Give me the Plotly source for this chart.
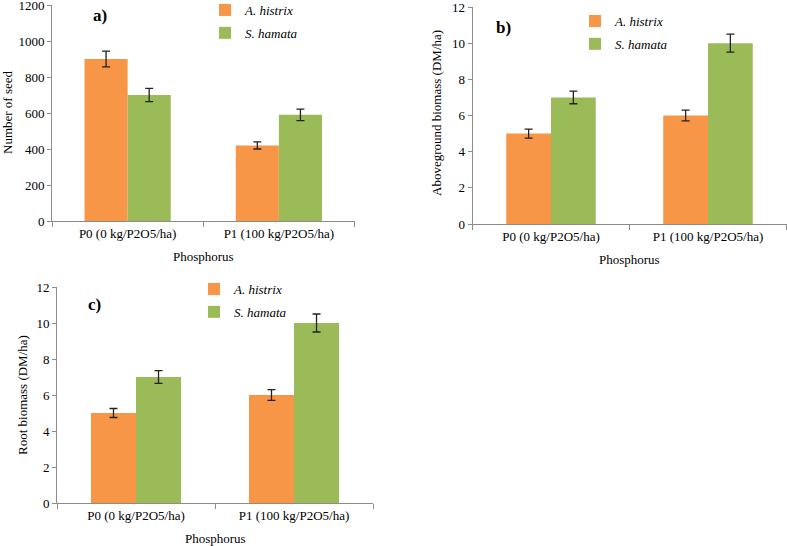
import plotly.graph_objs as go

categories = ['P0 (0 kg/P2O5/ha)', 'P1 (100 kg/P2O5/ha)']
series_names = ['A. histrix', 'S. hamata']

# panel a: number of seed
seed_histrix = [900, 420]
seed_histrix_err = [44, 20]
seed_hamata = [700, 590]
seed_hamata_err = [37, 32]

# panel b: aboveground biomass
above_histrix = [5, 6]
above_histrix_err = [0.25, 0.3]
above_hamata = [7, 10]
above_hamata_err = [0.35, 0.5]

# panel c: root biomass
root_histrix = [5, 6]
root_histrix_err = [0.25, 0.3]
root_hamata = [7, 10]
root_hamata_err = [0.35, 0.5]

seed_ticks = [0, 200, 400, 600, 800, 1000, 1200]
biomass_ticks = [0, 2, 4, 6, 8, 10, 12]

ORANGE = '#F79646'
GREEN = '#9BBB59'
FONT = 'Times New Roman, Liberation Serif, serif'
W, H = 787, 546


def px(x):
    return x / W


def py(y):
    return 1 - y / H


def bar(name, vals, errs, color, xa, ya, legend):
    return go.Bar(x=categories, y=vals, name='<i>' + name + '</i>',
                  marker=dict(color=color, line=dict(width=0)),
                  error_y=dict(type='data', array=errs, color='#222222',
                               thickness=1.3, width=4),
                  xaxis=xa, yaxis=ya, legend=legend,
                  legendgroup=legend + name)


data = [
    bar(series_names[0], seed_histrix, seed_histrix_err, ORANGE, 'x', 'y', 'legend'),
    bar(series_names[1], seed_hamata, seed_hamata_err, GREEN, 'x', 'y', 'legend'),
    bar(series_names[0], above_histrix, above_histrix_err, ORANGE, 'x2', 'y2', 'legend2'),
    bar(series_names[1], above_hamata, above_hamata_err, GREEN, 'x2', 'y2', 'legend2'),
    bar(series_names[0], root_histrix, root_histrix_err, ORANGE, 'x3', 'y3', 'legend3'),
    bar(series_names[1], root_hamata, root_hamata_err, GREEN, 'x3', 'y3', 'legend3'),
]

axis_line = '#8c8c8c'
tickfont = dict(family=FONT, size=13, color='black')


def xaxis(domain, anchor):
    return dict(domain=domain, anchor=anchor, type='category',
                showline=True, linecolor=axis_line, linewidth=1,
                ticks='outside', ticklen=5, tickcolor=axis_line,
                tickson='boundaries', showgrid=False, zeroline=False,
                tickfont=tickfont, fixedrange=True, automargin=False)


def yaxis(domain, anchor, rng, ticks):
    return dict(domain=domain, anchor=anchor, range=rng,
                tickmode='array', tickvals=ticks,
                showline=True, linecolor=axis_line, linewidth=1,
                ticks='outside', ticklen=4, tickcolor=axis_line,
                showgrid=False, zeroline=False, tickfont=tickfont,
                ticklabeloverflow='allow',
                fixedrange=True, automargin=False)


def legend(x, y):
    return dict(x=x, y=y, xanchor='left', yanchor='top',
                font=dict(family=FONT, size=13, color='black'),
                bgcolor='rgba(0,0,0,0)', tracegroupgap=3,
                itemwidth=30)


layout = go.Layout(
    width=W, height=H,
    margin=dict(l=0, r=0, t=0, b=0, autoexpand=False),
    paper_bgcolor='white', plot_bgcolor='white',
    barmode='group', bargap=0.43, bargroupgap=0,
    showlegend=True,
    font=dict(family=FONT, size=13, color='black'),
    xaxis=xaxis([px(52), px(354.5)], 'y'),
    yaxis=yaxis([py(221), py(5)], 'x', [0, 1200], seed_ticks),
    xaxis2=xaxis([px(472.5), px(786.5)], 'y2'),
    yaxis2=yaxis([py(224), py(7)], 'x2', [0, 12], biomass_ticks),
    xaxis3=xaxis([px(57), px(373)], 'y3'),
    yaxis3=yaxis([py(503), py(287)], 'x3', [0, 12], biomass_ticks),
    legend=legend(px(205), py(-5)),
    legend2=legend(px(575), py(6)),
    legend3=legend(px(194), py(274)),
)

ann = []


def text(x, y, s, size=13, angle=0, bold=False):
    if bold:
        s = '<b>' + s + '</b>'
    ann.append(dict(x=px(x), y=py(y), xref='paper', yref='paper', text=s,
                    showarrow=False, textangle=angle,
                    font=dict(family=FONT, size=size, color='black'),
                    xanchor='center', yanchor='middle'))


# panel labels
text(100, 15, 'a)', size=17, bold=True)
text(503, 27, 'b)', size=17, bold=True)
text(94, 304, 'c)', size=17, bold=True)

# axis titles
text(203, 256, 'Phosphorus')
text(629, 259, 'Phosphorus')
text(215, 538, 'Phosphorus')
text(8, 112, 'Number of seed', angle=-90)
text(437, 113, 'Aboveground biomass (DM/ha)', angle=-90)
text(22, 395, 'Root biomass (DM/ha)', angle=-90)

layout.annotations = ann

fig = go.Figure(data=data, layout=layout)
# the page body has a default 8px margin, drop it so the figure sits at 0,0
fig.write_html('out.html', config=dict(displayModeBar=False),
               post_script="document.body.style.margin='0';"
                           "document.body.style.overflow='hidden';")
